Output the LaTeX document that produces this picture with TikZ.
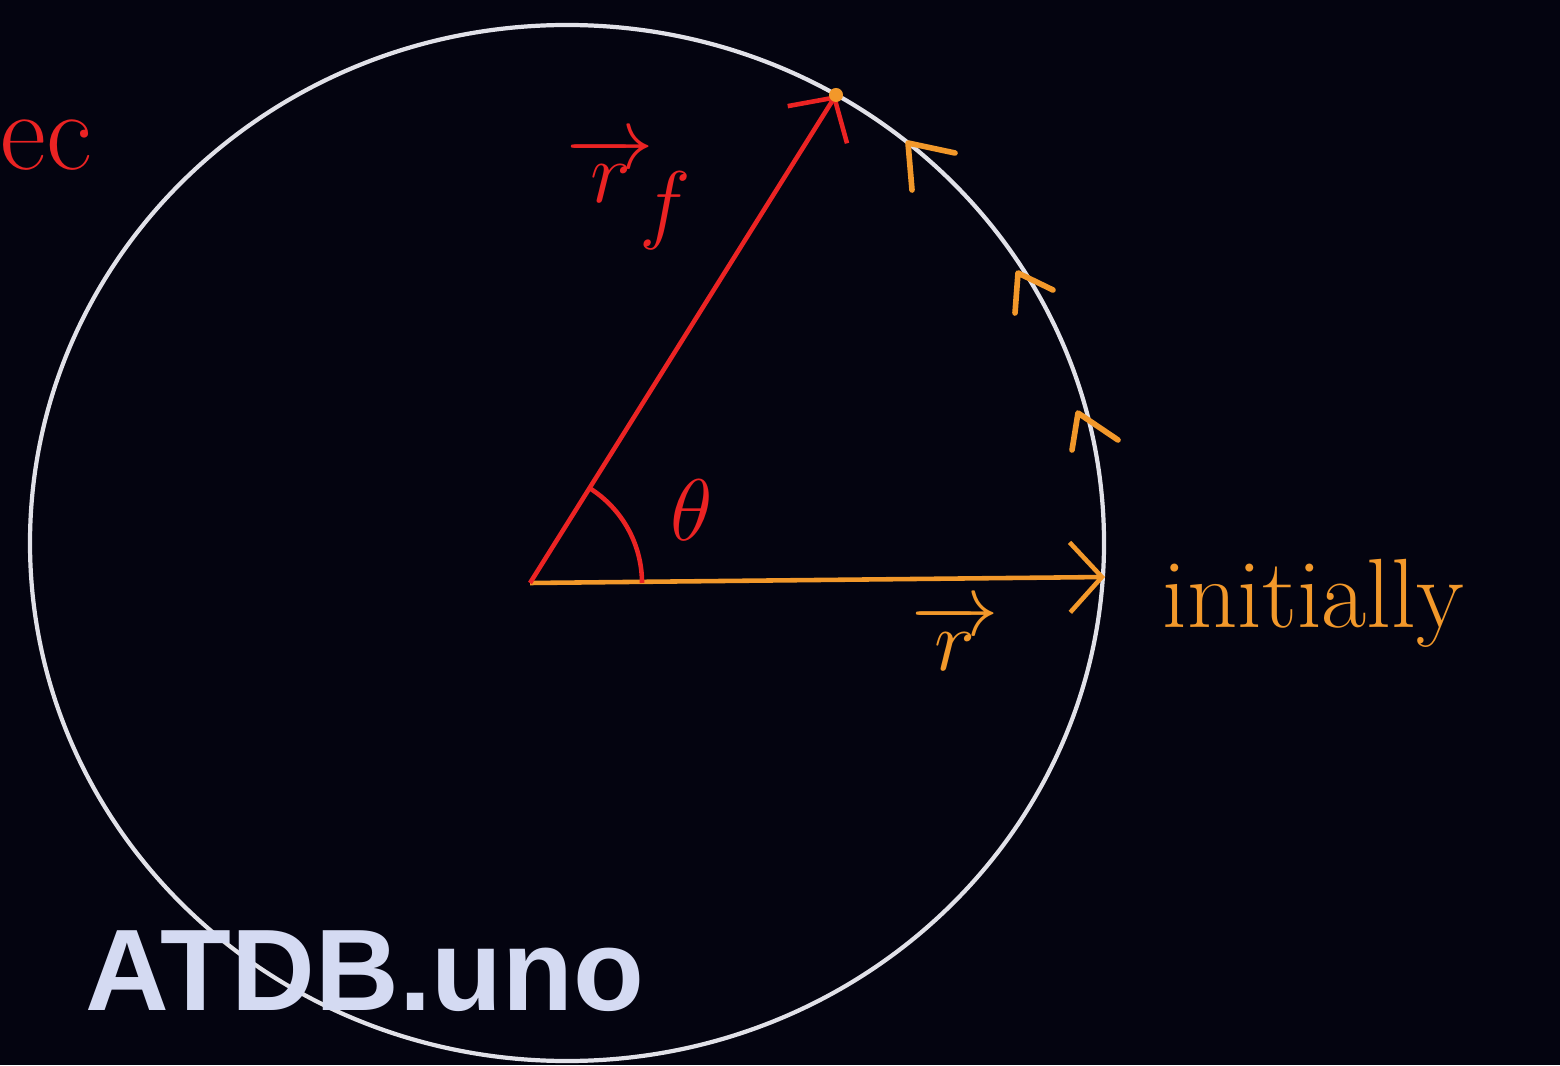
\documentclass[tikz,border=0pt]{standalone}
\usepackage{fontspec}
\newfontfamily\wmfont{Liberation Sans}
\usetikzlibrary{arrows.meta}
\definecolor{board}{RGB}{4,4,16}
\definecolor{chalk}{RGB}{225,225,232}
\definecolor{penred}{RGB}{235,35,35}
\definecolor{penorange}{RGB}{242,152,42}
\definecolor{wmark}{RGB}{212,218,242}
\tikzset{
  vecarrow/.style={line width=1.3pt,-{Straight Barb[length=3.2mm,width=7mm]}},
  tick/.style={penorange,line width=1.6pt,line cap=round,line join=round},
}

\begin{document}
\begin{tikzpicture}
  \useasboundingbox (0,0) rectangle (15.6,10.65);
  \fill[board] (0,0) rectangle (15.6,10.65);
  \draw[chalk,line width=1.2pt] (5.67,5.22) ellipse (5.37 and 5.18);
  \coordinate (O) at (5.30,4.82);
  \coordinate (R) at (11.05,4.88);
  \coordinate (RF) at (8.36,9.70);
  % position vectors
  \draw[vecarrow,penorange] (O) -- (R);
  \draw[vecarrow,penred] (O) -- (RF);
  \fill[penorange] (RF) circle (0.07);
  \draw[penred,line width=1.3pt] (O) ++(1.12,0) arc[start angle=0,end angle=58,radius=1.12];
  % direction of motion
  \draw[tick] (9.55,9.12) -- (9.08,9.22) -- (9.12,8.75);
  \draw[tick] (10.53,7.75) -- (10.18,7.92) -- (10.15,7.52);
  \draw[tick] (11.18,6.25) -- (10.78,6.52) -- (10.72,6.15);
  % labels
  \node[penred,font=\fontsize{34}{34}\selectfont] (theta) at (6.92,5.55) {\(\theta\)};
  \node[penred,font=\fontsize{34}{34}\selectfont] (rflab) at (6.30,8.72) {\(\overrightarrow{\,r\,}_{\!f}\)};
  \node[penorange,font=\fontsize{36}{36}\selectfont] (rlab) at (9.55,4.28) {\(\overrightarrow{\,r\,}\)};
  \node[penorange,font=\fontsize{28}{28}\selectfont,anchor=base west,inner sep=0pt] (init) at (11.62,4.38) {initially};
  \node[penred,font=\fontsize{32}{32}\selectfont,anchor=base west,inner sep=0pt] (ec) at (0.0,8.95) {ec};
  \node[wmark,font=\wmfont\bfseries\fontsize{33}{33}\selectfont,anchor=base west,inner sep=0pt] (wm) at (0.85,0.55) {ATDB.uno};
\end{tikzpicture}
\end{document}
